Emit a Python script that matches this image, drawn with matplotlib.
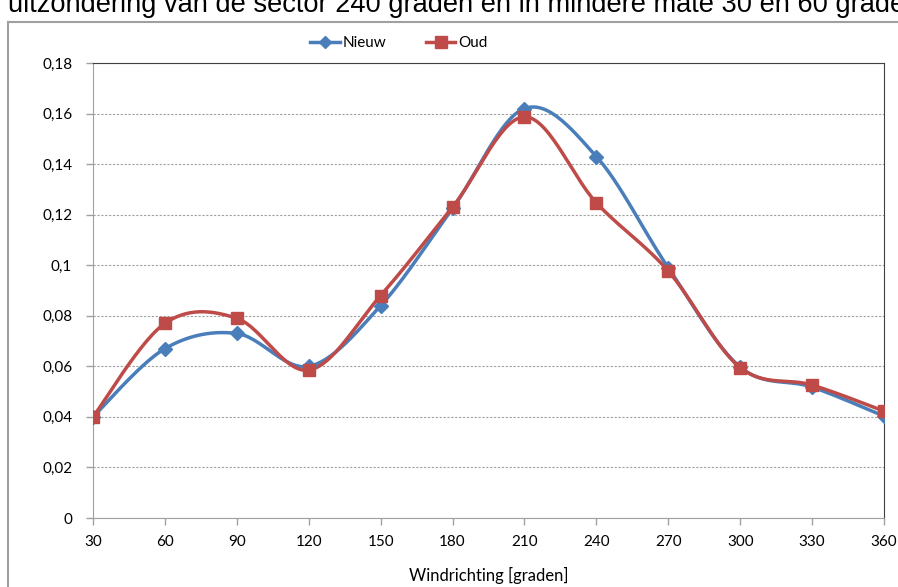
import numpy as np
import matplotlib
matplotlib.use("Agg")
import matplotlib.pyplot as plt
from matplotlib.lines import Line2D

richting = [30, 60, 90, 120, 150, 180, 210, 240, 270, 300, 330, 360]
nieuw = [0.040, 0.067, 0.073, 0.060, 0.084, 0.1225, 0.162, 0.143, 0.099, 0.0597, 0.0518, 0.0403]
oud = [0.040, 0.077, 0.079, 0.0585, 0.088, 0.123, 0.1587, 0.1247, 0.0977, 0.0595, 0.0526, 0.0423]
y_ticks = [0, 0.02, 0.04, 0.06, 0.08, 0.1, 0.12, 0.14, 0.16, 0.18]
y_labels = ["0", "0,02", "0,04", "0,06", "0,08", "0,1", "0,12", "0,14", "0,16", "0,18"]

BLUE = "#4a7ebb"
RED = "#be4b48"


def smooth(x, y, n=30):
    # Excel-achtige vloeiende lijn (Catmull-Rom via Bezier)
    x = np.asarray(x, float)
    y = np.asarray(y, float)
    pts = np.column_stack([x, y])
    out = []
    for i in range(len(pts) - 1):
        p0 = pts[i - 1] if i > 0 else pts[i]
        p1 = pts[i]
        p2 = pts[i + 1]
        p3 = pts[i + 2] if i + 2 < len(pts) else pts[i + 1]
        c1 = p1 + (p2 - p0) / 6
        c2 = p2 - (p3 - p1) / 6
        t = np.linspace(0, 1, n)[:, None]
        seg = ((1 - t) ** 3) * p1 + 3 * ((1 - t) ** 2) * t * c1 + 3 * (1 - t) * t ** 2 * c2 + t ** 3 * p2
        out.append(seg if i == 0 else seg[1:])
    s = np.vstack(out)
    return s[:, 0], s[:, 1]


plt.rcParams['font.family'] = ['Lato', 'DejaVu Sans']

fig = plt.figure(figsize=(8.98, 5.87), dpi=100)
ax = fig.add_axes([93 / 898, 1 - 518 / 587, (884 - 93) / 898, (518 - 63) / 587])

# rand van de grafiek en afgesneden tekst erboven (zoals in het origineel)
fig.add_artist(Line2D([8 / 898, 8 / 898], [0, 1 - 22 / 587], transform=fig.transFigure, color="#a0a0a0", lw=1.5))
fig.add_artist(Line2D([8 / 898, 1], [1 - 22 / 587, 1 - 22 / 587], transform=fig.transFigure, color="#a0a0a0", lw=1.5))
fig.text(8 / 898, 1 - 12 / 587, "uitzondering van de sector 240 graden en in mindere mate 30 en 60 graden",
         family="Liberation Sans", fontsize=19.6, va="baseline", ha="left")

for vals, col, mk, ms, lab in [(nieuw, BLUE, "D", 7, "Nieuw"), (oud, RED, "s", 9, "Oud")]:
    sx, sy = smooth(richting, vals)
    ax.plot(sx, sy, color=col, lw=2.5, zorder=3)
    ax.plot(richting, vals, ls="none", marker=mk, ms=ms, color=col, zorder=4)

ax.set_xlim(30, 360)
ax.set_ylim(0, 0.18)
ax.set_xticks(richting)
ax.set_xticklabels([str(v) for v in richting], fontsize=11)
ax.set_yticks(y_ticks)
ax.set_yticklabels(y_labels, fontsize=11)
ax.yaxis.grid(True, ls=(0, (2, 1.5)), color="#a0a0a0", lw=0.8)
ax.set_axisbelow(True)
ax.tick_params(axis="both", direction="out", length=5, color="#a0a0a0", width=1, pad=7)
ax.tick_params(axis="y", pad=10)
for side in ["left", "bottom"]:
    ax.spines[side].set_color("#a0a0a0")
for side in ["top", "right"]:
    ax.spines[side].set_color("#404040")
ax.set_xlabel("Windrichting [graden]", fontsize=12, labelpad=13)

handles = [Line2D([], [], color=BLUE, lw=2.5, marker="D", ms=6),
           Line2D([], [], color=RED, lw=2.5, marker="s", ms=8)]
fig.legend(handles, ["Nieuw", "Oud"], loc="center", bbox_to_anchor=(399 / 898, 1 - 43 / 587),
           ncol=2, frameon=False, fontsize=11, handlelength=1.9, columnspacing=2.6, handletextpad=0.2)

fig.savefig("out.png", dpi=100)
